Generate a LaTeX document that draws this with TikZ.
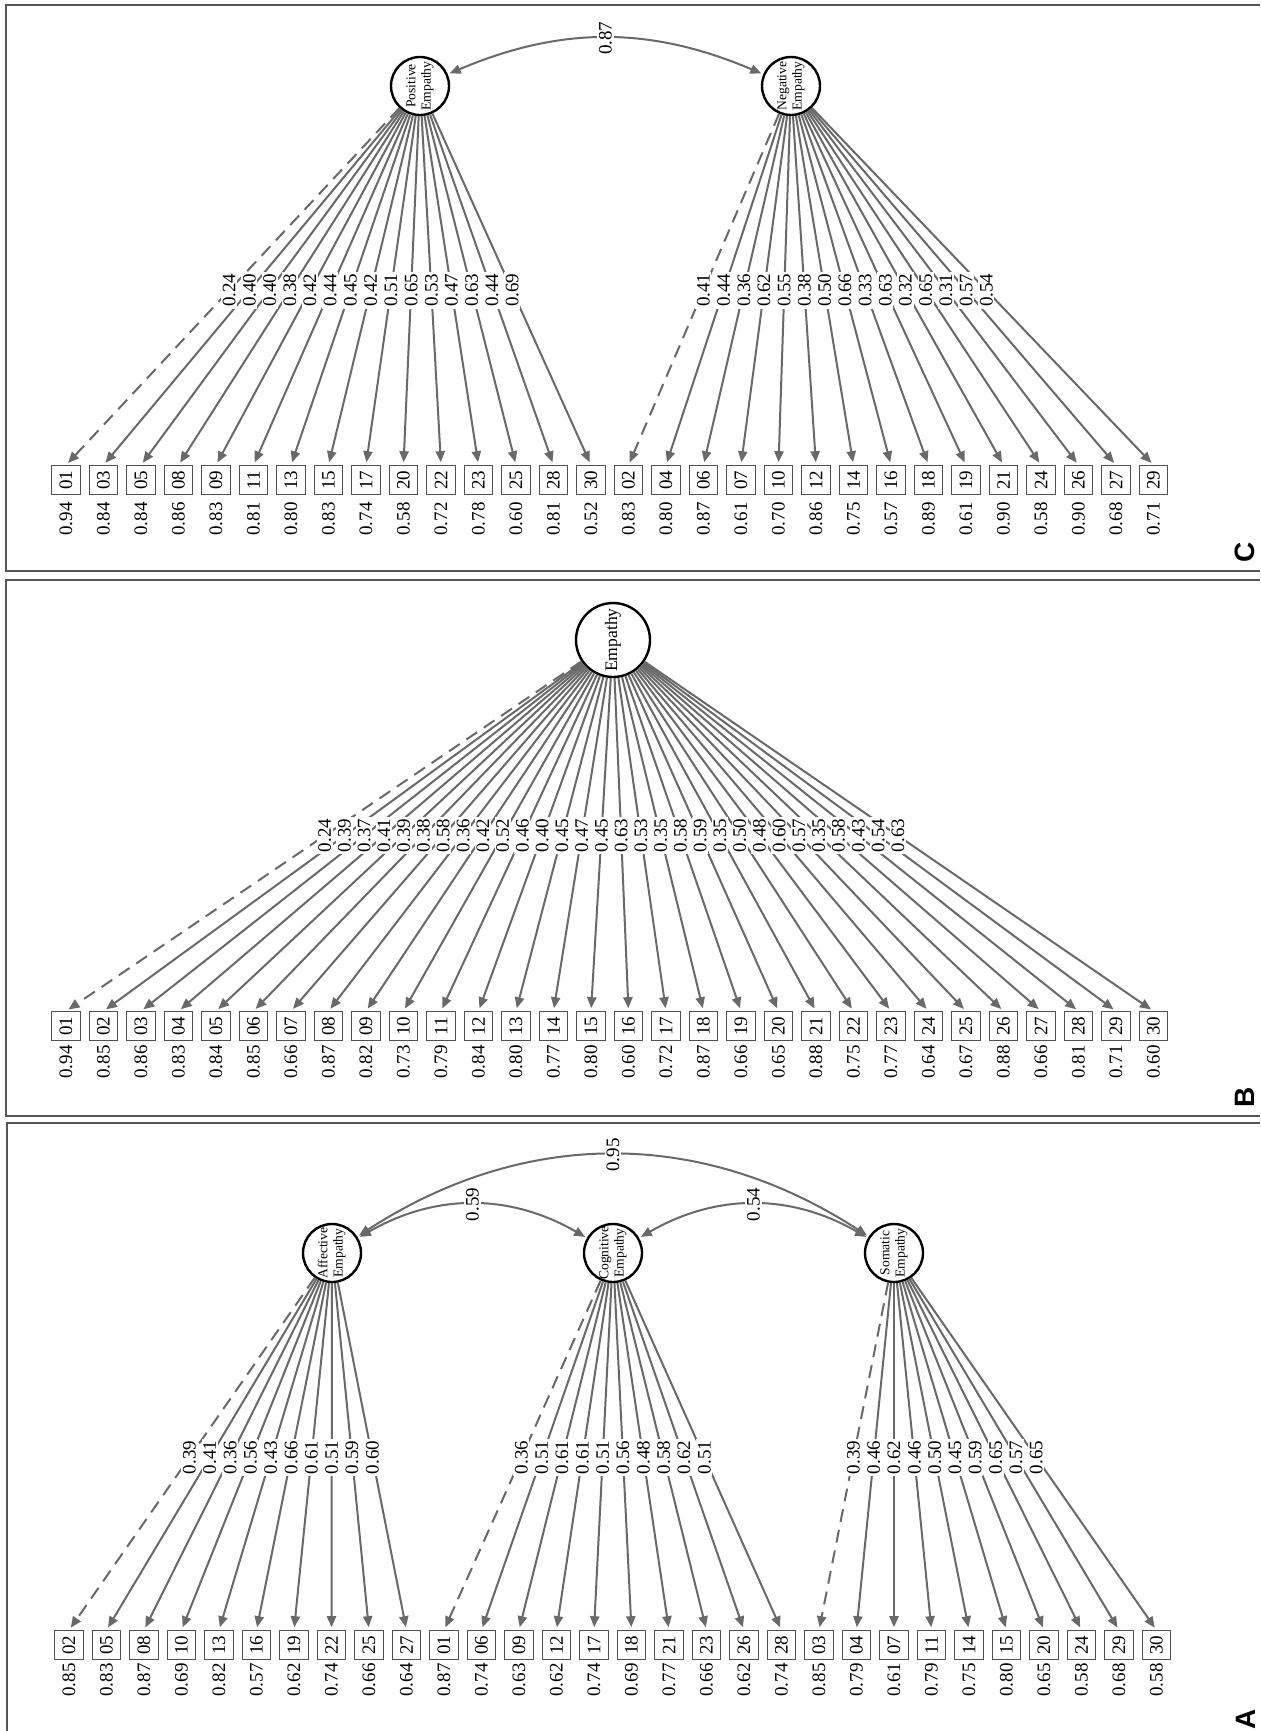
\documentclass[tikz,border=0pt]{standalone}
\usepackage{fontspec}
\setmainfont{Liberation Serif}
\newfontfamily\panelfont{Liberation Sans}
\usetikzlibrary{arrows.meta}
\definecolor{edgegray}{RGB}{105,105,105}
\definecolor{framegray}{RGB}{85,85,85}
\definecolor{boxgray}{RGB}{80,80,80}
\tikzset{
  itembox/.style={draw=boxgray, line width=0.65pt, minimum width=14.2pt, minimum height=14.2pt, inner sep=0pt, font=\fontsize{9.5}{9.5}\selectfont},
  latent/.style={draw=black, circle, line width=1.2pt, minimum size=29pt, inner sep=-1pt, fill=white},
  loadarrow/.style={draw=edgegray, line width=1pt, -{Triangle[length=5.5pt,width=4.6pt]}, shorten >=1.5pt},
  fixedarrow/.style={loadarrow, dash pattern=on 6.5pt off 4pt},
  covarrow/.style={draw=edgegray, line width=1pt, {Triangle[length=5.5pt,width=4.6pt]}-{Triangle[length=5.5pt,width=4.6pt]}, shorten >=1pt, shorten <=1pt},
  lbl/.style={fill=white, inner sep=0.8pt, rotate=90, font=\fontsize{9.5}{9.5}\selectfont},
  errlbl/.style={rotate=90, inner sep=0pt, font=\fontsize{9.5}{9.5}\selectfont},
  frame/.style={draw=framegray, line width=0.75pt},
  panellbl/.style={rotate=90, inner sep=0pt, font=\panelfont\bfseries\fontsize{14}{14}\selectfont},
}
\newcommand{\latentname}[2]{\rotatebox{90}{\fontsize{6.8}{7.6}\selectfont\begin{tabular}{@{}c@{}}#1\\#2\end{tabular}}}
% #1 factor, #2 x0, #3 offset, #4 box y, #5 t, #6 err y, #7 list
\newcommand{\factorgroup}[7]{%
  \foreach \itm/\ld/\er [count=\k from 0] in {#7} {
    \pgfmathsetmacro{\xx}{#2+37.5*(#3+\k)}
    \node[itembox] (#1i\itm) at (\xx,#4) {\rotatebox{90}{\itm}};
    \node[errlbl] (#1e\itm) at (\xx,#6) {\er};
    \ifnum\k=0
      \draw[fixedarrow] (#1) -- (#1i\itm.north);
    \else
      \draw[loadarrow] (#1) -- (#1i\itm.north);
    \fi
  }
  \foreach \itm/\ld/\er in {#7} {
    \path (#1.center) -- (#1i\itm.north) node[lbl, pos=#5] (#1l\itm) {\ld};
  }
}
\begin{document}
\begin{tikzpicture}[x=0.5pt, y=-0.5pt]
\useasboundingbox (0,0) rectangle (1260,1731);
\fill[white] (0,0) rectangle (1260,1731);
% frames
\draw[frame] (1260,5) -- (6,5) -- (6,571) -- (1260,571);
\draw[frame] (1260,580) -- (6,580) -- (6,1116) -- (1260,1116);
\draw[frame] (1260,1123) -- (7,1123) -- (7,1731);
% ---------------- Panel C
\node[latent] (pos) at (420,86) {\latentname{Positive}{Empathy}};
\node[latent] (neg) at (791,86) {\latentname{Negative}{Empathy}};
\factorgroup{pos}{66}{0}{480}{0.539}{519}{01/0.24/0.94, 03/0.40/0.84, 05/0.40/0.84, 08/0.38/0.86, 09/0.42/0.83, 11/0.44/0.81, 13/0.45/0.80, 15/0.42/0.83, 17/0.51/0.74, 20/0.65/0.58, 22/0.53/0.72, 23/0.47/0.78, 25/0.63/0.60, 28/0.44/0.81, 30/0.69/0.52}
\factorgroup{neg}{66}{15}{480}{0.539}{519}{02/0.41/0.83, 04/0.44/0.80, 06/0.36/0.87, 07/0.62/0.61, 10/0.55/0.70, 12/0.38/0.86, 14/0.50/0.75, 16/0.66/0.57, 18/0.33/0.89, 19/0.63/0.61, 21/0.32/0.90, 24/0.65/0.58, 26/0.31/0.90, 27/0.57/0.68, 29/0.54/0.71}
\draw[covarrow] (pos) to[bend left=23] node[lbl] (covpn) {0.87} (neg);
\node[panellbl] (labC) at (1245,552) {C};
% ---------------- Panel B
\node[latent, minimum size=37pt] (emp) at (613,640) {\rotatebox{90}{\fontsize{8.8}{9}\selectfont Empathy}};
\factorgroup{emp}{66}{0}{1026}{0.527}{1062}{01/0.24/0.94, 02/0.39/0.85, 03/0.37/0.86, 04/0.41/0.83, 05/0.39/0.84, 06/0.38/0.85, 07/0.58/0.66, 08/0.36/0.87, 09/0.42/0.82, 10/0.52/0.73, 11/0.46/0.79, 12/0.40/0.84, 13/0.45/0.80, 14/0.47/0.77, 15/0.45/0.80, 16/0.63/0.60, 17/0.53/0.72, 18/0.35/0.87, 19/0.58/0.66, 20/0.59/0.65, 21/0.35/0.88, 22/0.50/0.75, 23/0.48/0.77, 24/0.60/0.64, 25/0.57/0.67, 26/0.35/0.88, 27/0.58/0.66, 28/0.43/0.81, 29/0.54/0.71, 30/0.63/0.60}
\node[panellbl] (labB) at (1245,1097) {B};
% ---------------- Panel A
\node[latent] (aff) at (332,1253) {\latentname{Affective}{Empathy}};
\node[latent] (cog) at (613,1253) {\latentname{Cognitive}{Empathy}};
\node[latent] (som) at (894,1253) {\latentname{Somatic}{Empathy}};
\factorgroup{aff}{69}{0}{1645}{0.542}{1680}{02/0.39/0.85, 05/0.41/0.83, 08/0.36/0.87, 10/0.56/0.69, 13/0.43/0.82, 16/0.66/0.57, 19/0.61/0.62, 22/0.51/0.74, 25/0.59/0.66, 27/0.60/0.64}
\factorgroup{cog}{69}{10}{1645}{0.542}{1680}{01/0.36/0.87, 06/0.51/0.74, 09/0.61/0.63, 12/0.61/0.62, 17/0.51/0.74, 18/0.56/0.69, 21/0.48/0.77, 23/0.58/0.66, 26/0.62/0.62, 28/0.51/0.74}
\factorgroup{som}{69}{20}{1645}{0.542}{1680}{03/0.39/0.85, 04/0.46/0.79, 07/0.62/0.61, 11/0.46/0.79, 14/0.50/0.75, 15/0.45/0.80, 20/0.59/0.65, 24/0.65/0.58, 29/0.57/0.68, 30/0.65/0.58}
\draw[covarrow] (aff) to[bend left=33] node[lbl] (covas) {0.95} (som);
\draw[covarrow] (aff) to[bend left=30] node[lbl] (covac) {0.59} (cog);
\draw[covarrow] (cog) to[bend left=30] node[lbl] (covcs) {0.54} (som);
\node[panellbl] (labA) at (1246,1719) {A};
\end{tikzpicture}
\end{document}
